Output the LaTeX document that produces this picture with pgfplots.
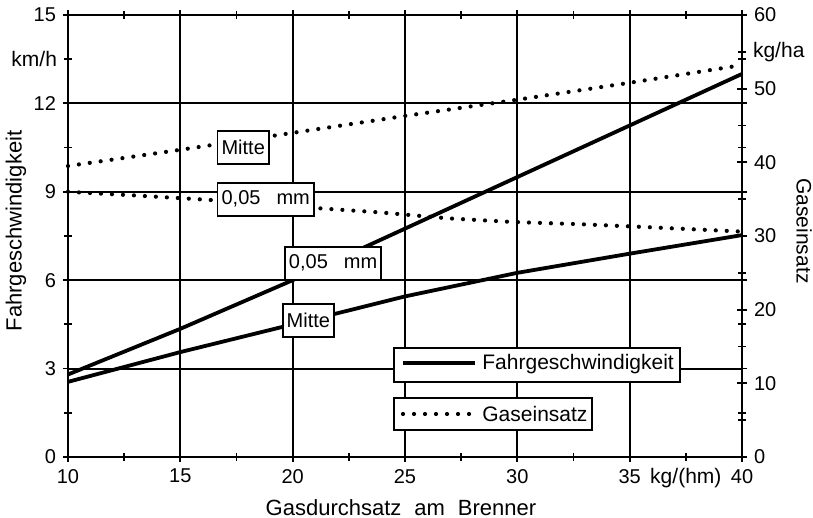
\documentclass[border=0pt]{standalone}
\usepackage{fontspec}
\setmainfont{Liberation Sans}
\usepackage{pgfplots}
\pgfplotsset{compat=1.18}
\begin{document}
\begin{tikzpicture}
\pgfplotsset{
  common/.style={
    at={(0,0)}, anchor=south west,
    scale only axis, width=337pt, height=221pt,
    xmin=10, xmax=40,
    tick align=center,
    major tick length=5pt, minor tick length=4pt,
    tick style={black, line width=0.9pt},
    axis line style={black, line width=1.4pt},
    ticklabel style={font=\fontsize{10}{12}\selectfont},
    /pgf/number format/assume math mode=true,
    clip=false,
  }
}
\begin{axis}[common,
  ymin=0, ymax=15,
  xtick={10,15,...,40}, ytick={0,3,...,15},
  minor xtick={12.5,17.5,...,32.5}, minor ytick={1.5,4.5,7.5,10.5},
  extra x ticks={37.5}, extra x tick labels={kg/(hm)},
  extra x tick style={grid=none, major tick length=4pt, ticklabel style={font=\fontsize{10.5}{12}\selectfont}},
  extra y ticks={13.5}, extra y tick labels={km/h},
  extra y tick style={grid=none, major tick length=4pt, ticklabel style={font=\fontsize{10.5}{12}\selectfont}},
  grid=major, major grid style={black, line width=0.95pt},
]
\addplot[black, line width=1.9pt] coordinates {(10,2.8) (15,4.35) (20,6.0) (25,7.75) (30,9.5) (35,11.25) (40,13.0)};
\addplot[black, line width=1.9pt] coordinates {(10,2.55) (15,3.56) (20,4.5) (25,5.45) (30,6.25) (35,6.9) (40,7.53)};
\end{axis}
\begin{axis}[common,
  ymin=0, ymax=60,
  axis x line=none, axis y line*=right,
  ytick={0,10,...,60}, minor ytick={5,15,...,45},
  extra y ticks={55}, extra y tick labels={kg/ha},
  extra y tick style={major tick length=4pt, ticklabel style={font=\fontsize{10.5}{12}\selectfont}},
]
\addplot[black, line width=2.1pt, line cap=round, dash pattern=on 0pt off 5.5pt] coordinates {(10,39.5) (15,41.7) (20,44.0) (25,46.3) (30,48.5) (35,50.8) (40,53.2)};
\addplot[black, line width=2.1pt, line cap=round, dash pattern=on 0pt off 5.5pt] coordinates {(10,36.0) (13,35.5) (16.3,34.9) (20,34.0) (23.9,33.2) (26.9,32.4) (29.8,31.9) (32.8,31.6) (35.8,31.2) (40,30.6)};
\tikzset{lab/.style={draw=black, fill=white, line width=0.9pt, inner xsep=2pt, inner ysep=0pt, minimum height=16.5pt, font=\fontsize{10}{12}\selectfont}}
\node[lab] at (axis cs:17.8,42.0) {Mitte};
\node[lab] at (axis cs:18.8,35.0) {0,05\hspace{8pt}mm};
\node[lab] at (axis cs:21.8,26.3) {0,05\hspace{8pt}mm};
\node[lab] at (axis cs:20.7,18.5) {Mitte};
\end{axis}
% legend boxes
\draw[line width=0.9pt, fill=white] (163pt,37.5pt) rectangle (306pt,54.5pt);
\draw[line width=1.9pt] (167.5pt,47pt) -- (203.5pt,47pt);
\node[anchor=west, inner sep=0pt, font=\fontsize{10.5}{12}\selectfont] at (207pt,46.5pt) {Fahrgeschwindigkeit};
\draw[line width=0.9pt, fill=white] (163pt,13.5pt) rectangle (262pt,29.5pt);
\draw[line width=2.1pt, line cap=round, dash pattern=on 0pt off 5.5pt] (167.5pt,21.5pt) -- (203.5pt,21.5pt);
\node[anchor=west, inner sep=0pt, font=\fontsize{10.5}{12}\selectfont] at (207pt,21.5pt) {Gaseinsatz};
% axis titles
\node[rotate=90, font=\fontsize{11}{13}\selectfont] at (-26pt,113pt) {Fahrgeschwindigkeit};
\node[rotate=-90, font=\fontsize{10.5}{12}\selectfont] at (368pt,113pt) {Gaseinsatz};
\node[font=\fontsize{11}{13}\selectfont] at (166.5pt,-25.5pt) {Gasdurchsatz\hspace{6.5pt}am\hspace{6.5pt}Brenner};
\pgfresetboundingbox
\path (-34pt,-30.5pt) rectangle (372.5pt,228.5pt);
\end{tikzpicture}
\end{document}
